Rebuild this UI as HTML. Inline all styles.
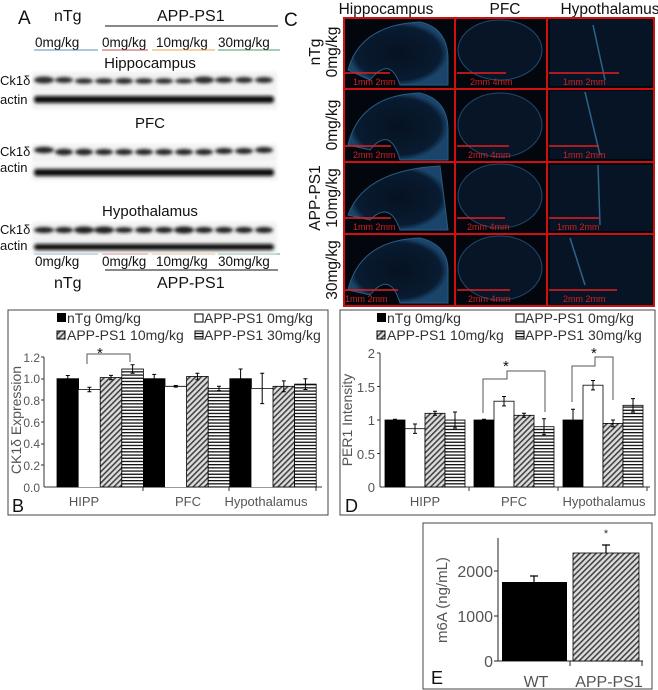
<!DOCTYPE html>
<html><head><meta charset="utf-8"><style>
html,body{margin:0;padding:0;background:#fff;}
svg{display:block;font-family:"Liberation Sans",Arial,sans-serif;}
</style></head><body>
<svg width="658" height="690" viewBox="0 0 658 690" xmlns="http://www.w3.org/2000/svg">
<defs>
<pattern id="hatch" width="4" height="4" patternUnits="userSpaceOnUse" patternTransform="rotate(45)">
<rect width="4" height="4" fill="#ddd"/><rect width="1.6" height="4" fill="#444"/></pattern>
<pattern id="hs" width="4" height="3.2" patternUnits="userSpaceOnUse">
<rect width="4" height="3.2" fill="#fff"/><rect width="4" height="1.3" fill="#111"/></pattern>
<filter id="blur"><feGaussianBlur stdDeviation="1.6"/></filter>
<radialGradient id="brain" cx="0.5" cy="0.5" r="0.5"><stop offset="0" stop-color="#081a30"/><stop offset="0.85" stop-color="#0d2a4a"/><stop offset="1" stop-color="#2a6ea8"/></radialGradient>
</defs>

<!-- ===== Panel A ===== -->
<g font-size="16" fill="#111">
<text x="18" y="24" font-size="19">A</text>
<text x="54" y="21">nTg</text>
<text x="157" y="21">APP-PS1</text>
<line x1="105" y1="26" x2="278" y2="26" stroke="#111" stroke-width="1"/>
<text x="284" y="26" font-size="19">C</text>
<g font-size="13.5">
<text x="35" y="47">0mg/kg</text><text x="102" y="47">0mg/kg</text><text x="156" y="47">10mg/kg</text><text x="218" y="47">30mg/kg</text>
</g>
<line x1="34" y1="50" x2="98" y2="50" stroke="#5b8fb8"/><line x1="102" y1="50" x2="148" y2="50" stroke="#c0504d"/>
<line x1="152" y1="50" x2="215" y2="50" stroke="#e8a65a"/><line x1="218" y1="50" x2="280" y2="50" stroke="#4e9a6a"/>
<text x="150" y="68" text-anchor="middle" font-size="15">Hippocampus</text>
<text x="150" y="128" text-anchor="middle" font-size="15">PFC</text>
<text x="150" y="216" text-anchor="middle" font-size="15">Hypothalamus</text>
<g font-size="13">
<text x="0" y="85">Ck1δ</text><text x="0" y="104">actin</text>
<text x="0" y="156">Ck1δ</text><text x="0" y="172">actin</text>
<text x="0" y="234">Ck1δ</text><text x="0" y="250">actin</text>
</g>
<g font-size="13.5">
<text x="35" y="266">0mg/kg</text><text x="102" y="266">0mg/kg</text><text x="156" y="266">10mg/kg</text><text x="218" y="266">30mg/kg</text>
</g>
<line x1="34" y1="254" x2="98" y2="254" stroke="#5b8fb8"/><line x1="102" y1="254" x2="148" y2="254" stroke="#c0504d"/>
<line x1="152" y1="254" x2="215" y2="254" stroke="#e8a65a"/><line x1="218" y1="254" x2="280" y2="254" stroke="#4e9a6a"/>
<line x1="105" y1="270" x2="278" y2="270" stroke="#111"/>
<text x="54" y="288">nTg</text><text x="157" y="288">APP-PS1</text>
</g>
<g filter="url(#blur)" fill="#222">
<rect x="32" y="72" width="245" height="20" fill="#f2f2f2"/>
<rect x="32" y="93" width="245" height="16" fill="#f0f0f0"/>
<rect x="32" y="144" width="245" height="18" fill="#f2f2f2"/>
<rect x="32" y="164" width="245" height="16" fill="#f0f0f0"/>
<rect x="32" y="222" width="245" height="18" fill="#f2f2f2"/>
<rect x="32" y="240" width="245" height="14" fill="#f0f0f0"/>
</g>
<g filter="url(#blur)">
<g fill="#2a2a2a">
<ellipse cx="44" cy="80" rx="10" ry="3.5"/><ellipse cx="64" cy="80" rx="9" ry="3"/><ellipse cx="84" cy="81" rx="9" ry="2.8"/>
<ellipse cx="104" cy="81" rx="9" ry="2.8"/><ellipse cx="124" cy="81" rx="9" ry="3"/><ellipse cx="144" cy="81" rx="9" ry="2.8"/>
<ellipse cx="164" cy="81" rx="9" ry="2.8"/><ellipse cx="184" cy="81" rx="9" ry="2.5"/><ellipse cx="204" cy="80" rx="10" ry="3.5"/>
<ellipse cx="224" cy="80" rx="9" ry="3"/><ellipse cx="244" cy="80" rx="9" ry="3"/><ellipse cx="264" cy="80" rx="9" ry="3"/>
</g>
<rect x="34" y="96" width="240" height="7" rx="3" fill="#111"/>
<g fill="#222">
<ellipse cx="44" cy="150" rx="10" ry="3.2"/><ellipse cx="64" cy="152" rx="9" ry="3.2"/><ellipse cx="84" cy="152" rx="9" ry="3.2"/>
<ellipse cx="104" cy="152" rx="9" ry="3"/><ellipse cx="124" cy="152" rx="9" ry="3"/><ellipse cx="144" cy="152" rx="9" ry="3"/>
<ellipse cx="164" cy="152" rx="9" ry="3"/><ellipse cx="184" cy="152" rx="9" ry="3"/><ellipse cx="204" cy="152" rx="9" ry="3"/>
<ellipse cx="224" cy="151" rx="9" ry="3"/><ellipse cx="244" cy="151" rx="9" ry="3"/><ellipse cx="264" cy="150" rx="9" ry="3"/>
</g>
<rect x="34" y="169" width="240" height="7" rx="3" fill="#111"/>
<g fill="#1a1a1a">
<ellipse cx="44" cy="230" rx="10" ry="3"/><ellipse cx="64" cy="230" rx="9" ry="3"/><ellipse cx="84" cy="230" rx="10" ry="3.5"/>
<ellipse cx="104" cy="230" rx="10" ry="3.5"/><ellipse cx="124" cy="230" rx="9" ry="2.8"/><ellipse cx="144" cy="230" rx="9" ry="3"/>
<ellipse cx="164" cy="230" rx="9" ry="3"/><ellipse cx="184" cy="230" rx="10" ry="3.5"/><ellipse cx="204" cy="230" rx="9" ry="3"/>
<ellipse cx="224" cy="230" rx="9" ry="3"/><ellipse cx="244" cy="230" rx="9" ry="3"/><ellipse cx="264" cy="230" rx="9" ry="3"/>
</g>
<rect x="34" y="244" width="240" height="6" rx="3" fill="#111"/>
</g>

<!-- ===== Panel C ===== -->
<g font-size="15.5" fill="#111">
<text x="386" y="14" text-anchor="middle">Hippocampus</text>
<text x="505" y="14" text-anchor="middle">PFC</text>
<text x="610" y="14" text-anchor="middle">Hypothalamus</text>
<text transform="translate(320,52) rotate(-90)" text-anchor="middle">nTg</text>
<text transform="translate(337,52) rotate(-90)" text-anchor="middle">0mg/kg</text>
<text transform="translate(337,125) rotate(-90)" text-anchor="middle">0mg/kg</text>
<text transform="translate(320,198) rotate(-90)" text-anchor="middle">APP-PS1</text>
<text transform="translate(337,198) rotate(-90)" text-anchor="middle">10mg/kg</text>
<text transform="translate(337,270) rotate(-90)" text-anchor="middle">30mg/kg</text>
</g>
<rect x="343" y="17" width="312" height="290" fill="#03060c"/>
<g opacity="0.6">
<g fill="url(#brain)" stroke="#3f95d8" stroke-width="1">
<path d="M348 70 Q360 25 420 22 Q448 28 448 60 L448 85 L400 85 Q390 55 370 80 Z"/>
<path d="M348 145 Q360 95 420 93 Q448 100 448 130 L448 160 L400 160 Q390 125 370 150 Z"/>
<path d="M348 215 Q365 170 440 166 L448 230 L400 230 Q390 200 370 220 Z"/>
<path d="M348 290 Q360 240 420 238 Q448 245 448 270 L448 303 L400 303 Q390 270 370 295 Z"/>
</g>
<g fill="#0a1f38" stroke="#2f78b8" stroke-width="1">
<ellipse cx="500" cy="50" rx="42" ry="30"/><ellipse cx="500" cy="125" rx="42" ry="32"/>
<ellipse cx="500" cy="196" rx="42" ry="32"/><ellipse cx="500" cy="268" rx="42" ry="32"/>
</g>
<g fill="#0a1e36">
<rect x="550" y="20" width="102" height="66"/><rect x="550" y="91" width="102" height="68"/>
<rect x="550" y="165" width="102" height="66"/><rect x="550" y="236" width="102" height="68"/>
</g>
<g stroke="#4aa0e0" stroke-width="1.5">
<line x1="593" y1="25" x2="605" y2="80"/><line x1="585" y1="92" x2="600" y2="155"/>
<line x1="598" y1="165" x2="600" y2="225"/><line x1="570" y1="238" x2="585" y2="285"/>
</g>
</g>
<g fill="none" stroke="#d01010" stroke-width="2">
<rect x="344" y="18" width="310" height="288"/>
<line x1="455" y1="18" x2="455" y2="306"/><line x1="547" y1="18" x2="547" y2="306"/>
<line x1="344" y1="89" x2="654" y2="89"/><line x1="344" y1="162" x2="654" y2="162"/><line x1="344" y1="234" x2="654" y2="234"/>
</g>
<g stroke="#e02020" stroke-width="1.5">
<line x1="345" y1="73" x2="390" y2="73"/><line x1="345" y1="146" x2="391" y2="146"/><line x1="345" y1="218" x2="391" y2="218"/><line x1="345" y1="290" x2="398" y2="290"/>
<line x1="457" y1="73" x2="506" y2="73"/><line x1="457" y1="146" x2="509" y2="146"/><line x1="457" y1="218" x2="505" y2="218"/><line x1="457" y1="290" x2="510" y2="290"/>
<line x1="549" y1="73" x2="619" y2="73"/><line x1="549" y1="146" x2="599" y2="146"/><line x1="549" y1="218" x2="599" y2="218"/><line x1="549" y1="290" x2="617" y2="290"/>
</g>
<g font-size="9" fill="#d02020">
<text x="353" y="85">1mm  2mm</text><text x="353" y="158">2mm  2mm</text><text x="353" y="230">1mm  2mm</text><text x="345" y="302">1mm  2mm</text>
<text x="470" y="85">2mm 4mm</text><text x="468" y="158">2mm  4mm</text><text x="467" y="230">2mm  4mm</text><text x="468" y="302">2mm  4mm</text>
<text x="563" y="85">1mm     2mm</text><text x="563" y="158">1mm    2mm</text><text x="557" y="230">1mm    2mm</text><text x="563" y="302">2mm     2mm</text>
</g>

<!-- ===== Panel B ===== -->
<rect x="8" y="310" width="320" height="205" fill="none" stroke="#444" stroke-width="1"/>
<g font-size="14" fill="#333">
<rect x="57" y="313" width="9" height="9" fill="#000"/><text x="67" y="323">nTg 0mg/kg</text>
<rect x="195" y="314" width="8" height="8" fill="#fff" stroke="#000"/><text x="204" y="323">APP-PS1 0mg/kg</text>
<rect x="57" y="331" width="8" height="8" fill="url(#hatch)" stroke="#000"/><text x="67" y="340">APP-PS1 10mg/kg</text>
<rect x="195" y="331" width="8" height="8" fill="url(#hs)" stroke="#000"/><text x="204" y="340">APP-PS1 30mg/kg</text>
</g>
<g font-size="12" fill="#555" text-anchor="end">
<text x="40" y="362">1.2</text><text x="40" y="383">1.0</text><text x="40" y="405">0.8</text><text x="40" y="427">0.6</text>
<text x="40" y="448">0.4</text><text x="40" y="470">0.2</text><text x="40" y="492">0.0</text>
</g>
<text transform="translate(21,420) rotate(-90)" font-size="14" fill="#555" text-anchor="middle">CK1δ Expression</text>
<g stroke="#333" stroke-width="1">
<line x1="44" y1="357" x2="44" y2="487"/><line x1="44" y1="487" x2="322" y2="487"/>
<line x1="41" y1="357" x2="44" y2="357"/><line x1="41" y1="379" x2="44" y2="379"/><line x1="41" y1="400" x2="44" y2="400"/>
<line x1="41" y1="422" x2="44" y2="422"/><line x1="41" y1="444" x2="44" y2="444"/><line x1="41" y1="465" x2="44" y2="465"/>
<line x1="143" y1="487" x2="143" y2="491"/><line x1="229" y1="487" x2="229" y2="491"/><line x1="316" y1="487" x2="316" y2="491"/>
</g>
<g stroke="#000" stroke-width="0.8">
<rect x="57" y="378.7" width="21.6" height="108.3" fill="#000"/>
<rect x="78.6" y="389.5" width="21.6" height="97.5" fill="#fff" stroke="none"/><line x1="78.6" y1="389.5" x2="100.2" y2="389.5"/>
<rect x="100.2" y="377.6" width="21.6" height="109.4" fill="url(#hatch)"/>
<rect x="121.8" y="369" width="21.6" height="118" fill="url(#hs)"/>
<rect x="143.4" y="378.7" width="21.6" height="108.3" fill="#000"/>
<rect x="165" y="386.3" width="21.6" height="100.7" fill="#fff" stroke="none"/><line x1="165" y1="386.3" x2="186.6" y2="386.3"/>
<rect x="186.6" y="376.5" width="21.6" height="110.5" fill="url(#hatch)"/>
<rect x="208.2" y="388.4" width="21.6" height="98.6" fill="url(#hs)"/>
<rect x="229.8" y="378.7" width="21.6" height="108.3" fill="#000"/>
<rect x="251.4" y="388.4" width="21.6" height="98.6" fill="#fff" stroke="none"/><line x1="251.4" y1="388.4" x2="273" y2="388.4"/>
<rect x="273" y="386.3" width="21.6" height="100.7" fill="url(#hatch)"/>
<rect x="294.6" y="384.1" width="21.6" height="102.9" fill="url(#hs)"/>
</g>
<g stroke="#000" stroke-width="1">
<path d="M67.8 375.5V381.9M65.8 375.5h4M65.8 381.9h4"/>
<path d="M89.4 387.3V391.7M87.4 387.3h4M87.4 391.7h4"/>
<path d="M111 375.4V379.8M109 375.4h4M109 379.8h4"/>
<path d="M132.6 364.7V373.3M130.6 364.7h4M130.6 373.3h4"/>
<path d="M154.2 374.4V383M152.2 374.4h4M152.2 383h4"/>
<path d="M175.8 385.5V387.1M173.8 385.5h4M173.8 387.1h4"/>
<path d="M197.4 373.3V379.7M195.4 373.3h4M195.4 379.7h4"/>
<path d="M219 386.2V390.6M217 386.2h4M217 390.6h4"/>
<path d="M240.6 369V388.4M238.6 369h4M238.6 388.4h4"/>
<path d="M262.2 373.2V403.6M260.2 373.2h4M260.2 403.6h4"/>
<path d="M283.8 380.9V391.7M281.8 380.9h4M281.8 391.7h4"/>
<path d="M305.4 378.7V389.5M303.4 378.7h4M303.4 389.5h4"/>
<path d="M87 364V354H130V362" fill="none" stroke="#555"/>
</g>
<text x="97" y="358" font-size="15" fill="#111">*</text>
<g font-size="13" fill="#555" text-anchor="middle">
<text x="84" y="506">HIPP</text><text x="188" y="506">PFC</text><text x="266" y="506">Hypothalamus</text>
</g>
<text x="12" y="512" font-size="18" fill="#111">B</text>

<!-- ===== Panel D ===== -->
<rect x="340" y="310" width="315" height="205" fill="none" stroke="#444" stroke-width="1"/>
<g font-size="14" fill="#333">
<rect x="377" y="313" width="9" height="9" fill="#000"/><text x="387" y="323">nTg 0mg/kg</text>
<rect x="516" y="314" width="8" height="8" fill="#fff" stroke="#000"/><text x="525" y="323">APP-PS1 0mg/kg</text>
<rect x="377" y="331" width="8" height="8" fill="url(#hatch)" stroke="#000"/><text x="387" y="340">APP-PS1 10mg/kg</text>
<rect x="516" y="331" width="8" height="8" fill="url(#hs)" stroke="#000"/><text x="525" y="340">APP-PS1 30mg/kg</text>
</g>
<g font-size="13" fill="#555" text-anchor="end">
<text x="375" y="358">2</text><text x="375" y="392">1.5</text><text x="375" y="425">1</text><text x="375" y="459">0.5</text><text x="375" y="492">0</text>
</g>
<text transform="translate(352,420) rotate(-90)" font-size="14" fill="#555" text-anchor="middle">PER1 Intensity</text>
<g stroke="#333" stroke-width="1">
<line x1="380" y1="353" x2="380" y2="487"/><line x1="380" y1="487" x2="650" y2="487"/>
<line x1="377" y1="353" x2="380" y2="353"/><line x1="377" y1="386.5" x2="380" y2="386.5"/><line x1="377" y1="420" x2="380" y2="420"/><line x1="377" y1="453.5" x2="380" y2="453.5"/>
<line x1="469" y1="487" x2="469" y2="491"/><line x1="558" y1="487" x2="558" y2="491"/><line x1="647" y1="487" x2="647" y2="491"/>
</g>
<g stroke="#000" stroke-width="0.8">
<rect x="385" y="420" width="20" height="67" fill="#000"/>
<rect x="405" y="428.7" width="20" height="58.3" fill="#fff"/>
<rect x="425" y="413.3" width="20" height="73.7" fill="url(#hatch)"/>
<rect x="445" y="420" width="20" height="67" fill="url(#hs)"/>
<rect x="474" y="420" width="20" height="67" fill="#000"/>
<rect x="494" y="401.2" width="20" height="85.8" fill="#fff"/>
<rect x="514" y="415.3" width="20" height="71.7" fill="url(#hatch)"/>
<rect x="534" y="426.7" width="20" height="60.3" fill="url(#hs)"/>
<rect x="563" y="420" width="20" height="67" fill="#000"/>
<rect x="583" y="385.2" width="20" height="101.8" fill="#fff"/>
<rect x="603" y="423.4" width="20" height="63.6" fill="url(#hatch)"/>
<rect x="623" y="405.3" width="20" height="81.7" fill="url(#hs)"/>
</g>
<g stroke="#000" stroke-width="1" fill="none">
<path d="M395 419.3V420.7M393 419.3h4M393 420.7h4"/>
<path d="M415 424V433.4M413 424h4M413 433.4h4"/>
<path d="M435 411.3V415.3M433 411.3h4M433 415.3h4"/>
<path d="M455 412V428M453 412h4M453 428h4"/>
<path d="M484 419.3V420.7M482 419.3h4M482 420.7h4"/>
<path d="M504 396.5V405.9M502 396.5h4M502 405.9h4"/>
<path d="M524 413.3V417.3M522 413.3h4M522 417.3h4"/>
<path d="M544 418.7V434.7M542 418.7h4M542 434.7h4"/>
<path d="M573 409.3V430.7M571 409.3h4M571 430.7h4"/>
<path d="M593 380.5V389.9M591 380.5h4M591 389.9h4"/>
<path d="M613 420V426.8M611 420h4M611 426.8h4"/>
<path d="M633 398.6V412M631 398.6h4M631 412h4"/>
<path d="M483 413V379H507V371H545V412" stroke="#555"/>
<path d="M572 402V366H595V357H613V400" stroke="#555"/>
</g>
<text x="503" y="371" font-size="15" fill="#111">*</text>
<text x="591" y="358" font-size="15" fill="#111">*</text>
<g font-size="13" fill="#555" text-anchor="middle">
<text x="425" y="506">HIPP</text><text x="514" y="506">PFC</text><text x="604" y="506">Hypothalamus</text>
</g>
<text x="345" y="512" font-size="18" fill="#111">D</text>

<!-- ===== Panel E ===== -->
<rect x="423" y="523" width="229" height="166" fill="none" stroke="#444" stroke-width="1"/>
<g font-size="16" fill="#555" text-anchor="end">
<text x="493" y="577">2000</text><text x="493" y="622">1000</text><text x="493" y="667">0</text>
</g>
<text transform="translate(447,600) rotate(-90)" font-size="15" fill="#555" text-anchor="middle">m6A (ng/mL)</text>
<g stroke="#222" stroke-width="1">
<line x1="498" y1="538" x2="498" y2="661"/><line x1="498" y1="661" x2="643" y2="661"/>
<line x1="494" y1="571" x2="498" y2="571"/><line x1="494" y1="616" x2="498" y2="616"/><line x1="494" y1="661" x2="498" y2="661"/>
<line x1="570" y1="661" x2="570" y2="666"/><line x1="642" y1="661" x2="642" y2="666"/>
</g>
<rect x="502" y="582" width="65" height="79" fill="#000"/>
<rect x="573" y="553" width="66" height="108" fill="url(#hatch)" stroke="#000" stroke-width="0.8"/>
<path d="M534 576V582M530 576h8M606 545V553M602 545h8" stroke="#000" stroke-width="1.2"/>
<text x="606" y="537" font-size="11" fill="#333" text-anchor="middle">*</text>
<g font-size="16" fill="#555" text-anchor="middle">
<text x="536" y="687">WT</text><text x="609" y="687">APP-PS1</text>
</g>
<text x="431" y="684" font-size="18" fill="#111">E</text>
</svg>
</body></html>
